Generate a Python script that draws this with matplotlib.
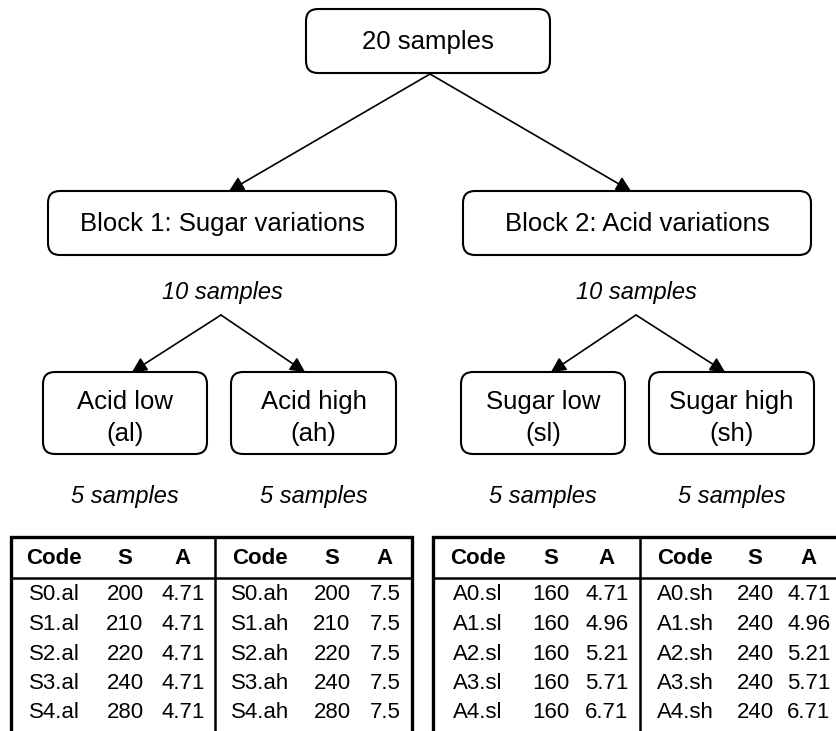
import matplotlib
matplotlib.use("Agg")
import matplotlib.pyplot as plt
from matplotlib.patches import FancyBboxPatch

plt.rcParams['font.family'] = ['Liberation Sans', 'DejaVu Sans']

# ---- data ----
top_label = "20 samples"
block_labels = ["Block 1: Sugar variations", "Block 2: Acid variations"]
block_counts = ["10 samples", "10 samples"]
sub_labels = ["Acid low\n(al)", "Acid high\n(ah)", "Sugar low\n(sl)", "Sugar high\n(sh)"]
sub_counts = ["5 samples", "5 samples", "5 samples", "5 samples"]

header = ["Code", "S", "A"]

codes_al = ["S0.al", "S1.al", "S2.al", "S3.al", "S4.al"]
sugar_al = [200, 210, 220, 240, 280]
acid_al = [4.71, 4.71, 4.71, 4.71, 4.71]

codes_ah = ["S0.ah", "S1.ah", "S2.ah", "S3.ah", "S4.ah"]
sugar_ah = [200, 210, 220, 240, 280]
acid_ah = [7.5, 7.5, 7.5, 7.5, 7.5]

codes_sl = ["A0.sl", "A1.sl", "A2.sl", "A3.sl", "A4.sl"]
sugar_sl = [160, 160, 160, 160, 160]
acid_sl = [4.71, 4.96, 5.21, 5.71, 6.71]

codes_sh = ["A0.sh", "A1.sh", "A2.sh", "A3.sh", "A4.sh"]
sugar_sh = [240, 240, 240, 240, 240]
acid_sh = [4.71, 4.96, 5.21, 5.71, 6.71]

# ---- figure (pixel coordinates, y down) ----
fig = plt.figure(figsize=(8.37, 7.31), dpi=100)
ax = fig.add_axes([0, 0, 1, 1])
ax.set_xlim(0, 837)
ax.set_ylim(731, 0)
ax.axis('off')


def rbox(x0, y0, x1, y1):
    p = FancyBboxPatch((x0, y0), x1 - x0, y1 - y0,
                       boxstyle="round,pad=0,rounding_size=12",
                       fc='white', ec='black', lw=1.5, zorder=3)
    ax.add_patch(p)


def arrow(x0, y0, x1, y1):
    ax.annotate("", xy=(x1, y1), xytext=(x0, y0),
                arrowprops=dict(arrowstyle='-|>,head_length=0.55,head_width=0.28',
                                color='black', lw=1.2, shrinkA=0, shrinkB=0,
                                mutation_scale=16), zorder=2)


# top box
rbox(306, 9, 550, 73)
ax.text(428, 42, top_label, ha='center', va='center', fontsize=18.5, zorder=4)

# blocks
block_x = [(48, 396), (463, 811)]
for (x0, x1), lab in zip(block_x, block_labels):
    rbox(x0, 191, x1, 255)
    ax.text((x0 + x1) / 2, 224, lab, ha='center', va='center', fontsize=18.5, zorder=4)
arrow(430, 74, 229, 191)
arrow(430, 74, 631, 191)

# block counts and sub-arrows
count_x = [222, 636]
for cx, lab in zip(count_x, block_counts):
    ax.text(cx, 293, lab, ha='center', va='center', fontsize=17, style='italic')
arrow(221, 315, 132, 372)
arrow(221, 315, 305, 372)
arrow(636, 315, 551, 372)
arrow(636, 315, 725, 372)

# sub boxes
sub_x = [(43, 207), (231, 396), (461, 625), (649, 814)]
for (x0, x1), lab, cnt in zip(sub_x, sub_labels, sub_counts):
    rbox(x0, 372, x1, 454)
    ax.text((x0 + x1) / 2, 418, lab, ha='center', va='center', fontsize=18.5,
            linespacing=1.45, zorder=4)
    ax.text((x0 + x1) / 2, 497, cnt, ha='center', va='center', fontsize=17, style='italic')

# ---- tables ----
row_y = [595, 624.5, 654, 683.5, 713]
head_y = 558


def table(x0, x1, xdiv, cols, groups):
    ax.plot([x0, x0, x1, x1], [731, 537, 537, 731], color='black', lw=2.4,
            solid_joinstyle='miter')
    ax.plot([x0, x1], [578, 578], color='black', lw=1.8)
    ax.plot([xdiv, xdiv], [537, 731], color='black', lw=1.8)
    for cxs, (codes, sug, acid) in zip(cols, groups):
        for cx, h in zip(cxs, header):
            ax.text(cx, head_y, h, ha='center', va='center', fontsize=16,
                    fontweight='bold')
        for y, c, s, a in zip(row_y, codes, sug, acid):
            ax.text(cxs[0], y, c, ha='center', va='center', fontsize=16)
            ax.text(cxs[1], y, str(s), ha='center', va='center', fontsize=16)
            ax.text(cxs[2], y, f"{a:g}", ha='center', va='center', fontsize=16)


table(11, 412, 215, [(54, 125, 183), (260, 332, 385)],
      [(codes_al, sugar_al, acid_al), (codes_ah, sugar_ah, acid_ah)])
table(433, 838, 640, [(478, 551, 607), (685, 755, 809)],
      [(codes_sl, sugar_sl, acid_sl), (codes_sh, sugar_sh, acid_sh)])

fig.savefig("out.png", dpi=100)
